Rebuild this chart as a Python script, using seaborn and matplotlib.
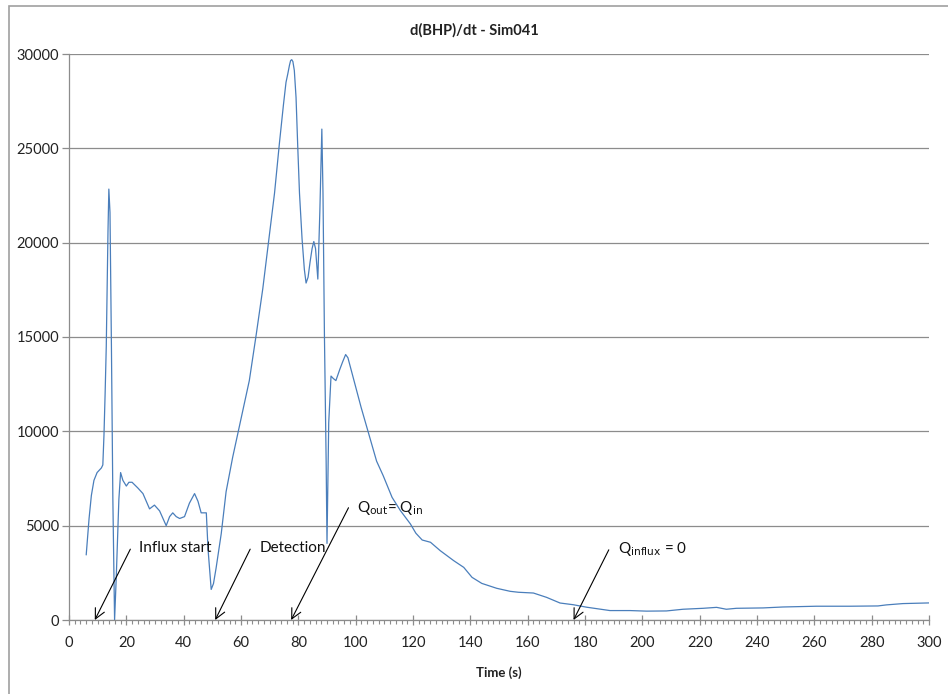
import matplotlib
matplotlib.use("Agg")
import matplotlib.pyplot as plt
import seaborn as sns
import pandas as pd
from matplotlib.patches import Rectangle
from matplotlib.ticker import MultipleLocator

# ---- data ----
time_s = [6.0, 7.0, 7.8, 8.7, 9.8, 11.3, 11.8, 12.2, 12.6, 13.0, 13.6, 13.9, 14.3, 14.8,
          15.3, 15.9, 16.5, 17.4, 18.0, 18.8, 20.0, 20.9, 22.0, 24.0, 25.8, 27.2, 28.1,
          29.8, 31.6, 32.8, 33.9, 35.1, 36.2, 37.4, 38.6, 40.3, 42.0, 43.8, 45.0, 46.1,
          47.9, 48.5, 49.6, 50.4, 51.3, 53.1, 54.8, 57.1, 60.0, 62.9, 65.3, 67.6, 69.9,
          71.7, 73.4, 74.8, 75.7, 76.3, 76.9, 77.3, 77.7, 78.1, 78.6, 79.2, 79.8, 80.4,
          81.3, 82.1, 82.7, 83.4, 84.1, 84.8, 85.4, 86.0, 86.8, 87.5, 88.2, 88.6, 89.1,
          89.7, 90.0, 90.6, 91.4, 92.2, 93.1, 94.5, 95.5, 96.5, 97.3, 98.0, 98.9, 99.8,
          101.9, 104.4, 107.3, 109.6, 112.7, 115.6, 119.1, 121.0, 123.2, 126.1, 129.5,
          134.2, 137.7, 140.6, 144.0, 149.2, 153.9, 156.8, 162.0, 166.6, 171.3, 175.9,
          180.5, 185.2, 188.7, 195.7, 201.5, 208.4, 214.2, 221.2, 225.9, 229.3, 232.8,
          242.1, 249.1, 260.7, 272.3, 282.2, 285.1, 290.9, 300.0]
dbhp_dt = [3450, 5380, 6600, 7400, 7815, 8060, 8220, 9800, 12000, 14500, 20600, 22840, 21600, 14500,
           6400, 0, 2330, 6400, 7815, 7400, 7100, 7300, 7300, 7000, 6700, 6200, 5890,
           6090, 5785, 5380, 5000, 5480, 5680, 5480, 5380, 5480, 6190, 6700, 6290, 5680,
           5680, 3760, 1620, 1930, 2740, 4570, 6800, 8630, 10660, 12690, 15120, 17560, 20400,
           22630, 25270, 27300, 28500, 28930, 29400, 29650, 29700, 29600, 29130, 27700, 25070, 22630,
           20200, 18580, 17860, 18170, 18980, 19690, 20060, 19690, 18070, 21620, 26020, 22630, 15120,
           8420, 4060, 10450, 12930, 12800, 12690, 13300, 13700, 14070, 13900, 13500, 12990, 12480,
           11270, 9950, 8420, 7650, 6500, 5800, 5090, 4600, 4240, 4120, 3675,
           3145, 2790, 2260, 1940, 1680, 1520, 1470, 1430, 1200, 900, 810,
           680, 580, 500, 500, 470, 480, 570, 620, 670, 570, 620,
           640, 690, 730, 730, 745, 800, 870, 905]

# annotations: label, text position (x, y), arrow tail (x, y), arrow head x
ann_labels = ["Influx start", "Detection",
              r"Q$_{\mathrm{out}}$= Q$_{\mathrm{in}}$", r"Q$_{\mathrm{influx}}$ = 0"]
ann_text_xy = [(24.5, 3800), (66.5, 3800), (100.5, 5950), (191.5, 3750)]
ann_tail_xy = [(21.4, 3755), (63.2, 3755), (97.5, 5950), (188.3, 3720)]
ann_head_x = [9.0, 51.0, 77.5, 176.0]

x_ticks = list(range(0, 301, 20))
y_ticks = list(range(0, 30001, 5000))

df = pd.DataFrame({"Time (s)": time_s, "d(BHP)/dt": dbhp_dt})

sns.set_theme(style="white")
plt.rcParams["font.family"] = ["Lato", "DejaVu Sans"]
plt.rcParams["mathtext.default"] = "regular"

fig = plt.figure(figsize=(9.48, 6.94), dpi=100)
ax = fig.add_axes([69 / 948, 1 - 620 / 694, 860 / 948, 566 / 694])

# outer chart frame (only top and left edges visible)
fig.patches.append(Rectangle((9 / 948, -0.1), 1.2, 1 - 6 / 694 + 0.1,
                             transform=fig.transFigure, fill=False,
                             edgecolor="#a0a0a0", linewidth=1.2))

sns.lineplot(data=df, x="Time (s)", y="d(BHP)/dt", ax=ax, color="#4a7ebb",
             linewidth=0.9, sort=False)

ax.set_xlim(0, 300)
ax.set_ylim(0, 30000)
ax.set_xticks(x_ticks)
ax.set_yticks(y_ticks)
ax.set_yticklabels([str(v) for v in y_ticks])
ax.xaxis.set_minor_locator(MultipleLocator(2))
ax.yaxis.grid(True, color="#8c8c8c", linewidth=0.9)
ax.xaxis.grid(False)
ax.set_axisbelow(True)

for s in ["top", "right"]:
    ax.spines[s].set_visible(False)
for s in ["left", "bottom"]:
    ax.spines[s].set_color("#8c8c8c")
    ax.spines[s].set_linewidth(0.9)

ax.tick_params(axis="x", which="major", direction="inout", length=7, width=0.9,
               color="#8c8c8c", labelsize=10.5, pad=8, bottom=True)
ax.tick_params(axis="x", which="minor", direction="out", length=3, width=0.8,
               color="#8c8c8c", bottom=True)
ax.tick_params(axis="y", which="major", direction="out", length=5, width=0.9,
               color="#8c8c8c", labelsize=10.5, pad=2, left=True)
for lab in ax.get_xticklabels() + ax.get_yticklabels():
    lab.set_color("#222222")

ax.set_xlabel("Time (s)", fontsize=9.5, fontweight="bold", labelpad=12, color="#222222")
ax.set_ylabel("")

fig.text(0.5, 1 - 30 / 694, "d(BHP)/dt - Sim041", ha="center", va="center",
         fontsize=10.5, fontweight="bold", color="#222222")

for lab, txy, tail, hx in zip(ann_labels, ann_text_xy, ann_tail_xy, ann_head_x):
    ax.annotate("", xy=(hx, 0), xytext=tail,
                arrowprops=dict(arrowstyle="->,head_length=0.6,head_width=0.3",
                                color="black", lw=0.8, shrinkA=0, shrinkB=0),
                annotation_clip=False)
    ax.text(txy[0], txy[1], lab, ha="left", va="center", fontsize=11, color="#111111")

fig.savefig("out.png", dpi=100)
